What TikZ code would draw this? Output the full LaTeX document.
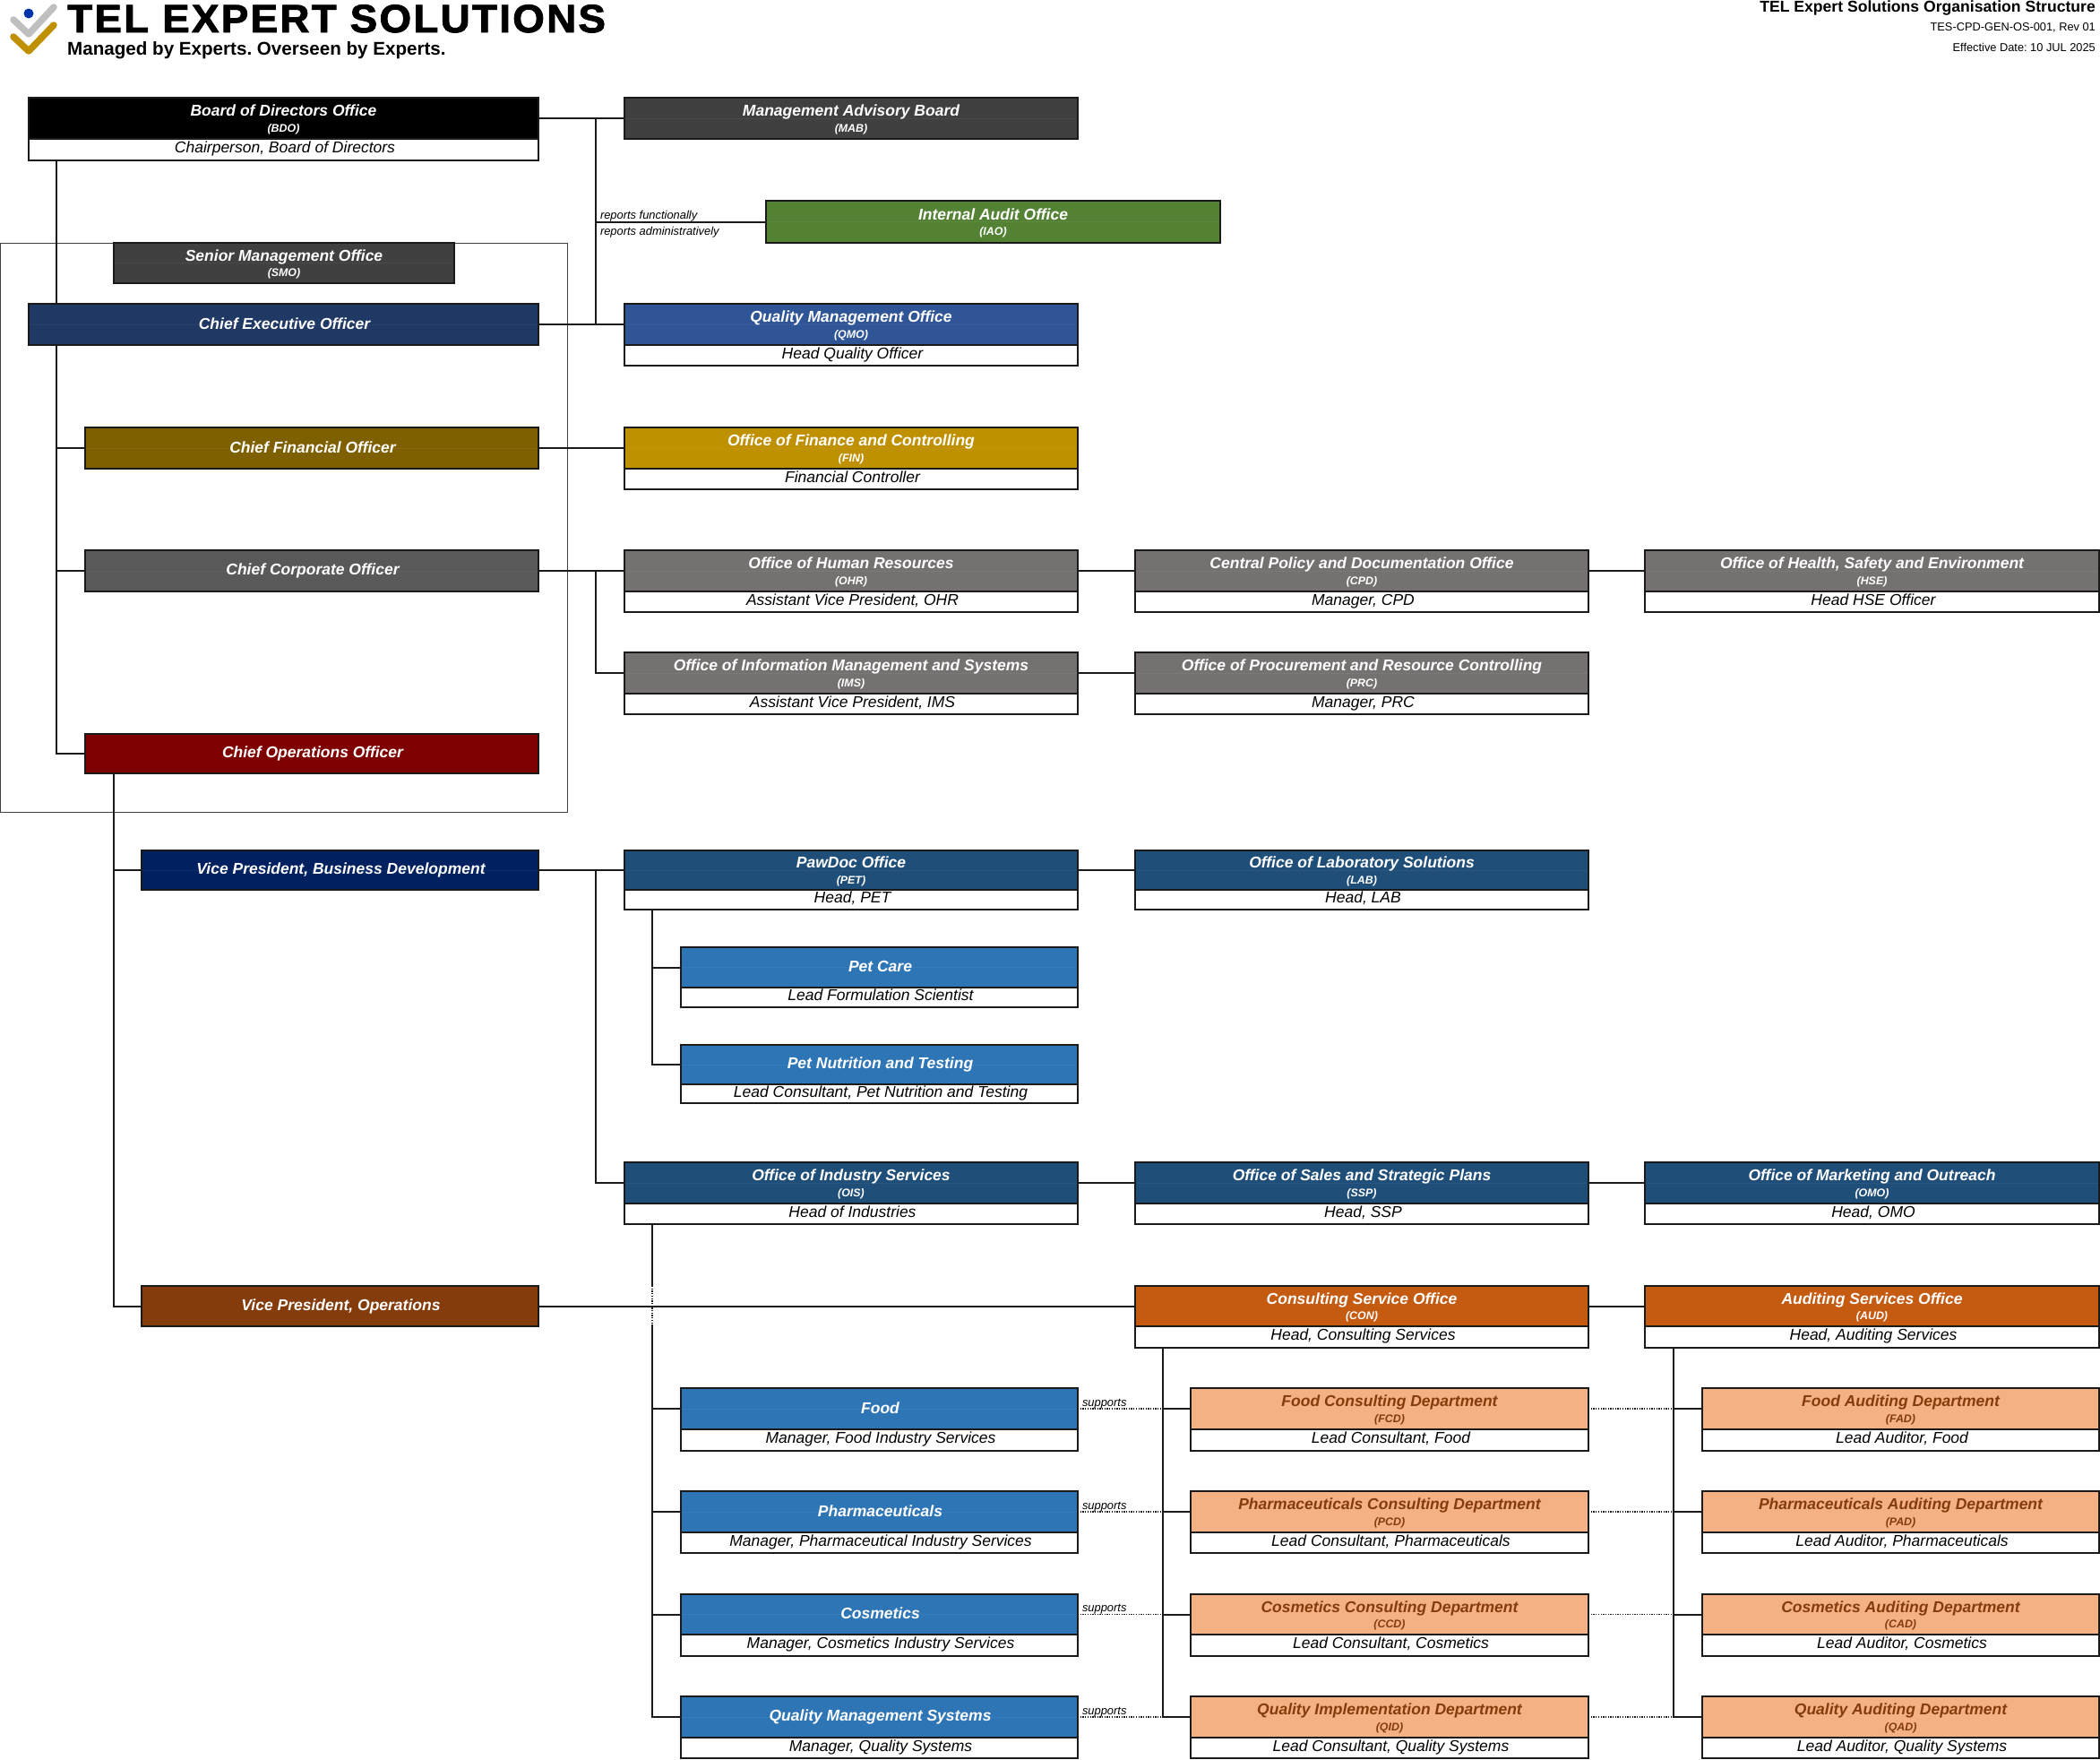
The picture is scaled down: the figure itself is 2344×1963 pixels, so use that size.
\documentclass[tikz,border=0pt]{standalone}
\usepackage{fontspec}
\usetikzlibrary{backgrounds,calc}
\setmainfont{Liberation Sans}
\newfontfamily\bigtitlefont[LetterSpace=5.2,FakeBold=2,FakeStretch=1.04]{Liberation Sans Bold}
\newfontfamily\taglinefont{Liberation Sans Bold}
\definecolor{cBlack}{HTML}{000000}
\definecolor{cDark}{HTML}{404040}
\definecolor{cGreen}{HTML}{548235}
\definecolor{cNavy}{HTML}{1F3864}
\definecolor{cQual}{HTML}{2F5597}
\definecolor{cOchre}{HTML}{7F6000}
\definecolor{cGold}{HTML}{BF9000}
\definecolor{cGrey}{HTML}{595959}
\definecolor{cTaupe}{HTML}{767171}
\definecolor{cMaroon}{HTML}{7F0000}
\definecolor{cVP}{HTML}{002060}
\definecolor{cSteel}{HTML}{1F4E79}
\definecolor{cBlue}{HTML}{2E75B6}
\definecolor{cBrown}{HTML}{843C0C}
\definecolor{cOrange}{HTML}{C55A11}
\definecolor{cPeach}{HTML}{F4B183}
\definecolor{cLine}{HTML}{1A1A1A}
\tikzset{
  x=1pt,y=-1pt,
  hdbox/.style={draw=cLine,line width=1.8pt,inner sep=0pt,outer sep=0pt,align=center,text=white},
  seam/.style={path picture={\draw[white,opacity=.05,line width=0.8pt] (path picture bounding box.west) -- (path picture bounding box.east);}},
  subbox/.style={draw=cLine,line width=1.8pt,fill=white,inner sep=0pt,outer sep=0pt,align=center,text=black,
     text height=12pt,text depth=4.5pt,font=\fontsize{17.5}{19}\selectfont\itshape},
  link/.style={draw=cLine,line width=2pt},
  dotlink/.style={draw=cLine,line width=1.5pt,dash pattern=on 1.35pt off 1.35pt},
  tiny/.style={inner sep=0pt,outer sep=0pt,font=\fontsize{12.9}{15}\selectfont\itshape,text=black},
  frame/.style={draw=cDark,line width=1pt,inner sep=0pt,outer sep=0pt},
}
% header with a title and an abbreviation
\newcommand\hdr[8][seam]{%
  \node[hdbox,#1,fill=#2,minimum width={(#5-#4)*1pt},minimum height={(#7-#6)*1pt}] (#3) at ({(#4+#5)/2},{(#6+#7)/2})
    {#8};}
\newcommand\ttl[2]{\rule[-4pt]{0pt}{20pt}{\fontsize{17.5}{19}\selectfont\bfseries\itshape #1}\\[2.5pt]\rule[-2.5pt]{0pt}{12.5pt}{\fontsize{12.4}{14}\selectfont\bfseries\itshape #2}}
\newcommand\one[1]{\hspace{2pt}\raisebox{2.5pt}{\fontsize{17.5}{19}\selectfont\bfseries\itshape #1}}
\newcommand\subb[6]{%
  \node[subbox,minimum width={(#3-#2)*1pt},minimum height={(#5-#4)*1pt}] (#1) at ({(#2+#3)/2},{(#4+#5)/2})
    {\hspace{3pt}#6};}
\begin{document}
\frenchspacing
\begin{tikzpicture}
\useasboundingbox (0,0) rectangle (2344,1963);
\begin{scope}[on background layer]
  \path[fill=white] (0,0) rectangle (2344,1963);
\end{scope}

% logo
\draw[color={rgb,255:red,191;green,191;blue,191},line width=7.5pt,line cap=round,line join=round] (15,22) -- (32,38) -- (60,8);
\draw[cGold,line width=7.5pt,line cap=round,line join=round] (15,41) -- (32,57) -- (60,28);
\fill[color={rgb,255:red,0;green,51;blue,170}] (32,15) circle (5.5);

% heading
\node[anchor=base west,inner sep=0,font=\fontsize{44}{46}\selectfont\bigtitlefont] (brand) at (75,36) {TEL EXPERT SOLUTIONS};
\node[anchor=base west,inner sep=0,font=\fontsize{20.6}{22}\selectfont\taglinefont] (tagline) at (75,61) {Managed by Experts. Overseen by Experts.};
\node[anchor=base east,inner sep=0,font=\fontsize{17.6}{19}\selectfont\bfseries] (doctitle) at (2339,13) {TEL Expert Solutions Organisation Structure};
\node[anchor=base east,inner sep=0,font=\fontsize{12.8}{14}\selectfont] (docno) at (2339,34) {TES-CPD-GEN-OS-001, Rev 01};
\node[anchor=base east,inner sep=0,font=\fontsize{12.8}{14}\selectfont] (docdate) at (2339,57) {Effective Date: 10 JUL 2025};

% left column
\hdr[]{cBlack}{bdo}{32}{601}{109}{155}{\ttl{Board of Directors Office}{(BDO)}}
\subb{bdos}{32}{601}{155}{179}{Chairperson, Board of Directors}
\hdr{cDark}{smo}{127}{507}{271}{316}{\ttl{Senior Management Office}{(SMO)}}
\hdr{cNavy}{ceo}{32}{601}{339}{385}{\one{Chief Executive Officer}}
\hdr{cOchre}{cfo}{95}{601}{477}{523}{\one{Chief Financial Officer}}
\hdr{cGrey}{cco}{95}{601}{614}{660}{\one{Chief Corporate Officer}}
\hdr[]{cMaroon}{coo}{95}{601}{819}{863}{\one{Chief Operations Officer}}
\hdr{cVP}{vpb}{158}{601}{949}{993}{\one{Vice President, Business Development}}
\hdr[]{cBrown}{vpo}{158}{601}{1435}{1480}{\one{Vice President, Operations}}

% column A
\hdr{cDark}{mab}{697}{1203}{109}{155}{\ttl{Management Advisory Board}{(MAB)}}
\hdr{cGreen}{iao}{855}{1362}{224}{271}{\ttl{Internal Audit Office}{(IAO)}}
\hdr{cQual}{qmo}{697}{1203}{339}{385}{\ttl{Quality Management Office}{(QMO)}}
\subb{qmos}{697}{1203}{385}{408}{Head Quality Officer}
\hdr{cGold}{fin}{697}{1203}{477}{523}{\ttl{Office of Finance and Controlling}{(FIN)}}
\subb{fins}{697}{1203}{523}{546}{Financial Controller}
\hdr{cTaupe}{ohr}{697}{1203}{614}{660}{\ttl{Office of Human Resources}{(OHR)}}
\subb{ohrs}{697}{1203}{660}{683}{Assistant Vice President, OHR}
\hdr{cTaupe}{ims}{697}{1203}{728}{774}{\ttl{Office of Information Management and Systems}{(IMS)}}
\subb{imss}{697}{1203}{774}{797}{Assistant Vice President, IMS}
\hdr{cSteel}{pet}{697}{1203}{949}{993}{\ttl{PawDoc Office}{(PET)}}
\subb{pets}{697}{1203}{993}{1015}{Head, PET}
\hdr{cBlue}{care}{760}{1203}{1057}{1102}{\one{Pet Care}}
\subb{cares}{760}{1203}{1102}{1124}{Lead Formulation Scientist}
\hdr{cBlue}{nut}{760}{1203}{1166}{1210}{\one{Pet Nutrition and Testing}}
\subb{nuts}{760}{1203}{1210}{1231}{Lead Consultant, Pet Nutrition and Testing}
\hdr{cSteel}{ois}{697}{1203}{1297}{1343}{\ttl{Office of Industry Services}{(OIS)}}
\subb{oiss}{697}{1203}{1343}{1366}{Head of Industries}
\hdr{cBlue}{food}{760}{1203}{1549}{1595}{\one{Food}}
\subb{foods}{760}{1203}{1595}{1619}{Manager, Food Industry Services}
\hdr{cBlue}{phar}{760}{1203}{1664}{1710}{\one{Pharmaceuticals}}
\subb{phars}{760}{1203}{1710}{1733}{Manager, Pharmaceutical Industry Services}
\hdr{cBlue}{cosm}{760}{1203}{1779}{1824}{\one{Cosmetics}}
\subb{cosms}{760}{1203}{1824}{1848}{Manager, Cosmetics Industry Services}
\hdr{cBlue}{qms}{760}{1203}{1893}{1939}{\one{Quality Management Systems}}
\subb{qmss}{760}{1203}{1939}{1962}{Manager, Quality Systems}

% column B
\hdr{cTaupe}{cpd}{1267}{1773}{614}{660}{\ttl{Central Policy and Documentation Office}{(CPD)}}
\subb{cpds}{1267}{1773}{660}{683}{Manager, CPD}
\hdr{cTaupe}{prc}{1267}{1773}{728}{774}{\ttl{Office of Procurement and Resource Controlling}{(PRC)}}
\subb{prcs}{1267}{1773}{774}{797}{Manager, PRC}
\hdr{cSteel}{lab}{1267}{1773}{949}{993}{\ttl{Office of Laboratory Solutions}{(LAB)}}
\subb{labs}{1267}{1773}{993}{1015}{Head, LAB}
\hdr{cSteel}{ssp}{1267}{1773}{1297}{1343}{\ttl{Office of Sales and Strategic Plans}{(SSP)}}
\subb{ssps}{1267}{1773}{1343}{1366}{Head, SSP}
\hdr[]{cOrange}{con}{1267}{1773}{1435}{1480}{\ttl{Consulting Service Office}{(CON)}}
\subb{cons}{1267}{1773}{1480}{1504}{Head, Consulting Services}
\hdr[text=cBrown]{cPeach}{fcd}{1329}{1773}{1549}{1595}{\ttl{Food Consulting Department}{(FCD)}}
\subb{fcds}{1329}{1773}{1595}{1619}{Lead Consultant, Food}
\hdr[text=cBrown]{cPeach}{pcd}{1329}{1773}{1664}{1710}{\ttl{Pharmaceuticals Consulting Department}{(PCD)}}
\subb{pcds}{1329}{1773}{1710}{1733}{Lead Consultant, Pharmaceuticals}
\hdr[text=cBrown]{cPeach}{ccd}{1329}{1773}{1779}{1824}{\ttl{Cosmetics Consulting Department}{(CCD)}}
\subb{ccds}{1329}{1773}{1824}{1848}{Lead Consultant, Cosmetics}
\hdr[text=cBrown]{cPeach}{qid}{1329}{1773}{1893}{1939}{\ttl{Quality Implementation Department}{(QID)}}
\subb{qids}{1329}{1773}{1939}{1962}{Lead Consultant, Quality Systems}

% column C
\hdr{cTaupe}{hse}{1836}{2343}{614}{660}{\ttl{Office of Health, Safety and Environment}{(HSE)}}
\subb{hses}{1836}{2343}{660}{683}{Head HSE Officer}
\hdr{cSteel}{omo}{1836}{2343}{1297}{1343}{\ttl{Office of Marketing and Outreach}{(OMO)}}
\subb{omos}{1836}{2343}{1343}{1366}{Head, OMO}
\hdr[]{cOrange}{aud}{1836}{2343}{1435}{1480}{\ttl{Auditing Services Office}{(AUD)}}
\subb{auds}{1836}{2343}{1480}{1504}{Head, Auditing Services}
\hdr[text=cBrown]{cPeach}{fad}{1900}{2343}{1549}{1595}{\ttl{Food Auditing Department}{(FAD)}}
\subb{fads}{1900}{2343}{1595}{1619}{Lead Auditor, Food}
\hdr[text=cBrown]{cPeach}{pad}{1900}{2343}{1664}{1710}{\ttl{Pharmaceuticals Auditing Department}{(PAD)}}
\subb{pads}{1900}{2343}{1710}{1733}{Lead Auditor, Pharmaceuticals}
\hdr[text=cBrown]{cPeach}{cad}{1900}{2343}{1779}{1824}{\ttl{Cosmetics Auditing Department}{(CAD)}}
\subb{cads}{1900}{2343}{1824}{1848}{Lead Auditor, Cosmetics}
\hdr[text=cBrown]{cPeach}{qad}{1900}{2343}{1893}{1939}{\ttl{Quality Auditing Department}{(QAD)}}
\subb{qads}{1900}{2343}{1939}{1962}{Lead Auditor, Quality Systems}

% free ends of trunk lines
\coordinate (boardbus) at ($(bdo.east)!0.667!(mab.west)$);
\coordinate (corpbus) at ($(cco.east)!0.667!(ohr.west)$);
\coordinate (bdbus) at ($(vpb.east)!0.667!(pet.west)$);
\coordinate (conTrunk) at ([xshift=31pt]cons.south west);
\coordinate (audTrunk) at ([xshift=32pt]auds.south west);
\coordinate (oisTrunk) at ([xshift=31pt]oiss.south west);
\coordinate (xTop) at (oisTrunk |- vpo.north);
\coordinate (xBot) at (oisTrunk |- vpo.south);

\begin{scope}[on background layer]
  % executive frame, behind everything
  \node[frame,minimum width=633pt,minimum height=635pt] (execframe) at (317,588.5) {};
  % board
  \draw[link] (bdo.east) -- (mab.west);
  \draw[link] (boardbus) -- (boardbus |- qmo.west);
  \draw[link] (boardbus |- iao.west) -- (iao.west);
  \draw[link] (ceo.east) -- (qmo.west);
  \draw[link] ([xshift=31pt]bdos.south west) |- (coo.west);
  \draw[link] ([xshift=31pt]bdos.south west |- cfo.west) -- (cfo.west);
  \draw[link] ([xshift=31pt]bdos.south west |- cco.west) -- (cco.west);
  % chiefs
  \draw[link] (cfo.east) -- (fin.west);
  \draw[link] (cco.east) -- (ohr.west);
  \draw[link] (corpbus) |- (ims.west);
  \draw[link] (ohr.east) -- (cpd.west);
  \draw[link] (cpd.east) -- (hse.west);
  \draw[link] (ims.east) -- (prc.west);
  % operations trunk
  \draw[link] ([xshift=32pt]coo.south west) |- (vpo.west);
  \draw[link] ([xshift=32pt]coo.south west |- vpb.west) -- (vpb.west);
  % business development
  \draw[link] (vpb.east) -- (pet.west);
  \draw[link] (pet.east) -- (lab.west);
  \draw[link] (bdbus) |- (ois.west);
  \draw[link] ([xshift=31pt]pets.south west) |- (nut.west);
  \draw[link] ([xshift=31pt]pets.south west |- care.west) -- (care.west);
  \draw[link] (ois.east) -- (ssp.west);
  \draw[link] (ssp.east) -- (omo.west);
  % industry services trunk, dotted where it crosses the operations line
  \draw[link] (oisTrunk) -- (xTop);
  \draw[dotlink] (xTop) -- (xBot);
  \draw[link] (xBot) |- (qms.west);
  \draw[link] (oisTrunk |- food.west) -- (food.west);
  \draw[link] (oisTrunk |- phar.west) -- (phar.west);
  \draw[link] (oisTrunk |- cosm.west) -- (cosm.west);
  % operations
  \draw[link] (vpo.east) -- (con.west);
  \draw[link] (con.east) -- (aud.west);
  \draw[link] (conTrunk) |- (qid.west);
  \draw[link] (conTrunk |- fcd.west) -- (fcd.west);
  \draw[link] (conTrunk |- pcd.west) -- (pcd.west);
  \draw[link] (conTrunk |- ccd.west) -- (ccd.west);
  \draw[link] (audTrunk) |- (qad.west);
  \draw[link] (audTrunk |- fad.west) -- (fad.west);
  \draw[link] (audTrunk |- pad.west) -- (pad.west);
  \draw[link] (audTrunk |- cad.west) -- (cad.west);
  % supports
  \draw[dotlink] (food.east) -- (conTrunk |- food.east);
  \draw[dotlink] (phar.east) -- (conTrunk |- phar.east);
  \draw[dotlink] (cosm.east) -- (conTrunk |- cosm.east);
  \draw[dotlink] (qms.east) -- (conTrunk |- qms.east);
  \draw[dotlink] (fcd.east) -- (audTrunk |- fcd.east);
  \draw[dotlink] (pcd.east) -- (audTrunk |- pcd.east);
  \draw[dotlink] (ccd.east) -- (audTrunk |- ccd.east);
  \draw[dotlink] (qid.east) -- (audTrunk |- qid.east);
\end{scope}

% line labels
\node[tiny,anchor=base west] (repf) at (670,244) {reports functionally};
\node[tiny,anchor=base west] (repa) at (670,262) {reports administratively};
\node[tiny,anchor=base west] (sup1) at (1208,1569) {supports};
\node[tiny,anchor=base west] (sup2) at (1208,1684) {supports};
\node[tiny,anchor=base west] (sup3) at (1208,1798) {supports};
\node[tiny,anchor=base west] (sup4) at (1208,1913) {supports};
\end{tikzpicture}
\end{document}
